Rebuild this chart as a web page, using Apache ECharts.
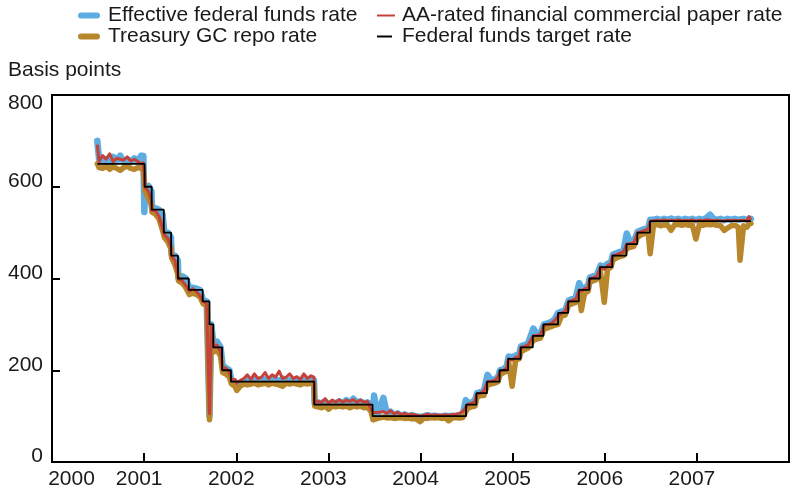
<!DOCTYPE html>
<html>
<head>
<meta charset="utf-8">
<script src="https://cdn.jsdelivr.net/npm/echarts@6/dist/echarts.min.js"></script>
<style>
  html, body { margin: 0; padding: 0; background: #fff; }
  #chart { width: 791px; height: 493px; }
</style>
</head>
<body>
<div id="chart"></div>
<script>
// Observation dates shared by the three market rates
const sampleDates = [
  '2000-06-29','2000-07-06','2000-07-20','2000-08-03','2000-08-17','2000-08-31','2000-09-14','2000-09-28',
  '2000-10-12','2000-10-26','2000-11-09','2000-11-23','2000-12-07','2000-12-21','2000-12-29','2001-01-02',
  '2001-01-05','2001-01-18','2001-01-30','2001-02-01','2001-02-15','2001-03-01','2001-03-15','2001-03-22',
  '2001-04-05','2001-04-17','2001-04-20','2001-05-03','2001-05-14','2001-05-17','2001-06-01','2001-06-15',
  '2001-06-29','2001-07-13','2001-07-27','2001-08-10','2001-08-23','2001-09-06','2001-09-17','2001-09-24',
  '2001-10-03','2001-10-17','2001-10-31','2001-11-08','2001-11-21','2001-12-05','2001-12-13','2001-12-27',
  '2002-01-03','2002-01-17','2002-01-31','2002-02-14','2002-02-28','2002-03-14','2002-03-28','2002-04-11',
  '2002-04-25','2002-05-09','2002-05-23','2002-06-06','2002-06-20','2002-07-03','2002-07-18','2002-08-01',
  '2002-08-15','2002-08-29','2002-09-12','2002-09-26','2002-10-10','2002-10-24','2002-11-05','2002-11-08',
  '2002-11-21','2002-12-05','2002-12-19','2003-01-02','2003-01-16','2003-01-30','2003-02-13','2003-02-27',
  '2003-03-13','2003-03-27','2003-04-10','2003-04-24','2003-05-08','2003-05-22','2003-06-05','2003-06-19',
  '2003-06-27','2003-07-01','2003-07-15','2003-08-07','2003-08-21','2003-09-04','2003-09-18','2003-10-02',
  '2003-10-16','2003-10-30','2003-11-13','2003-11-27','2003-12-11','2003-12-31','2004-01-15','2004-01-29',
  '2004-02-12','2004-02-26','2004-03-11','2004-03-25','2004-04-08','2004-04-22','2004-05-06','2004-05-20',
  '2004-06-03','2004-06-17','2004-06-29','2004-07-08','2004-07-22','2004-08-05','2004-08-12','2004-08-26',
  '2004-09-09','2004-09-23','2004-10-07','2004-10-21','2004-11-04','2004-11-12','2004-11-26','2004-12-09',
  '2004-12-16','2004-12-30','2005-01-13','2005-01-27','2005-02-03','2005-02-17','2005-03-03','2005-03-24',
  '2005-04-07','2005-04-21','2005-05-05','2005-05-19','2005-06-02','2005-06-16','2005-06-30','2005-07-14',
  '2005-07-28','2005-08-11','2005-08-25','2005-09-08','2005-09-22','2005-09-30','2005-10-13','2005-10-27',
  '2005-11-03','2005-11-17','2005-12-01','2005-12-15','2005-12-30','2006-01-12','2006-01-26','2006-02-02',
  '2006-02-16','2006-03-02','2006-03-16','2006-03-29','2006-04-12','2006-04-26','2006-05-11','2006-05-25',
  '2006-06-08','2006-06-22','2006-06-30','2006-07-13','2006-07-27','2006-08-10','2006-08-24','2006-09-07',
  '2006-09-21','2006-10-05','2006-10-19','2006-11-02','2006-11-16','2006-11-30','2006-12-14','2006-12-28',
  '2007-01-11','2007-01-25','2007-02-08','2007-02-22','2007-03-08','2007-03-22','2007-04-05','2007-04-19',
  '2007-05-03','2007-05-17','2007-05-31','2007-06-14','2007-06-21','2007-07-05','2007-07-19','2007-07-26',
  '2007-08-03'
];

// Effective federal funds rate, basis points
const effectiveFedFunds = [
  700,660,655,660,652,665,656,668, 654,660,655,662,656,668,667,545,
  600,602,590,555,553,550,540,502, 500,490,452,450,440,402,405,400,
  380,380,378,375,352,350,100,300, 255,262,250,210,205,200,178,175,
  165,172,175,178,175,180,176,175, 180,175,178,180,175,182,175,178,
  176,180,175,178,176,180,178,128, 130,128,132,125,130,128,132,128,
  135,128,138,130,132,128,130,125, 105,145,102,140,104,110,102,106,
  100,104,100,102,100,98,100,102, 100,101,100,99,101,100,101,100,
  102,104,135,128,130,135,150,152, 155,190,178,180,185,200,202,210,
  230,228,232,235,252,255,258,291, 278,280,300,302,305,310,325,328,
  330,352,355,358,390,378,380,385, 402,405,408,428,425,432,435,452,
  455,458,460,498,478,480,502,505, 508,510,528,528,530,527,530,528,
  531,528,530,527,530,528,530,527, 530,528,532,539,530,528,530,527,
  530,528,530,528,526,530,528,530, 530
];

// Treasury general collateral repo rate, basis points
const treasuryRepo = [
  650,642,640,645,638,644,640,636, 642,645,640,638,642,640,635,610,
  590,575,560,545,540,530,505,490, 480,465,445,430,410,395,390,380,
  365,368,365,360,345,340,92,285, 240,245,230,195,192,185,170,165,
  156,165,170,168,170,172,168,170, 172,168,172,170,168,165,172,170,
  172,170,168,172,170,172,170,122, 120,118,122,115,122,120,122,120,
  122,118,122,120,122,118,120,110, 92,95,95,98,96,97,95,96,
  97,95,96,94,95,88,96,95, 97,96,97,95,96,90,96,97,
  96,97,110,118,120,122,140,145, 145,168,170,172,175,190,195,198,
  218,165,222,225,240,245,248,265, 268,270,290,292,295,298,300,318,
  320,342,345,348,365,330,368,372, 392,395,398,415,348,420,425,440,
  445,448,450,465,468,470,490,495, 498,500,454,516,518,515,517,516,
  505,517,518,516,518,516,517,486, 518,516,518,517,518,516,515,505,
  510,515,516,512,440,515,512,518, 520
];

// AA-rated financial commercial paper rate, basis points
const aaFinancialCP = [
  692,655,668,660,672,655,662,660, 658,665,656,660,655,650,652,630,
  598,590,570,548,548,535,510,495, 488,470,448,440,410,398,395,385,
  372,378,372,362,350,345,105,295, 250,255,240,205,205,195,180,180,
  172,178,182,190,180,192,182,185, 195,182,190,185,198,182,185,192,
  182,186,180,192,182,188,185,130, 132,130,138,128,135,130,136,130,
  135,132,136,130,135,130,132,115, 108,112,108,110,106,112,105,108,
  104,106,103,104,103,100,102,104, 102,103,102,102,103,102,103,104,
  106,110,120,126,128,132,148,150, 155,175,176,178,185,198,200,205,
  225,222,228,230,250,252,255,275, 276,278,298,300,302,308,318,325,
  328,350,352,355,375,372,378,380, 400,402,405,425,420,428,432,450,
  452,455,458,475,476,478,500,502, 505,508,525,526,527,526,528,526,
  527,526,528,526,527,526,528,525, 527,526,528,527,526,527,526,525,
  527,526,527,526,524,527,526,535, 528
];

// Federal funds target rate: date of each change and the new level, basis points
const targetChangeDates = [
  '2000-06-29','2001-01-03','2001-01-31','2001-03-20','2001-04-18','2001-05-15','2001-06-27','2001-08-21',
  '2001-09-17','2001-10-02','2001-11-06','2001-12-11','2002-11-06','2003-06-25','2004-06-30','2004-08-10',
  '2004-09-21','2004-11-10','2004-12-14','2005-02-02','2005-03-22','2005-05-03','2005-06-30','2005-08-09',
  '2005-09-20','2005-11-01','2005-12-13','2006-01-31','2006-03-28','2006-05-10','2006-06-29','2007-08-03'
];
const targetLevels = [
  650,600,550,500,450,400,375,350, 300,250,200,175,125,100,125,150,
  175,200,225,250,275,300,325,350, 375,400,425,450,475,500,525,525
];

const yAxisTicks = [0, 200, 400, 600, 800];
const yearRange = [2000, 2008];

const FONT = '"Liberation Sans", Arial, sans-serif';
const TEXT_COLOR = '#1a1a1a';

// Calendar date -> fractional year for the numeric time axis
function toYear(s) {
  const [y, m, d] = s.split('-').map(Number);
  const start = Date.UTC(y, 0, 1), end = Date.UTC(y + 1, 0, 1);
  return y + (Date.UTC(y, m - 1, d) - start) / (end - start);
}

const pairs = (dates, vals) => dates.map((d, i) => [toYear(d), vals[i]]);

const capsule = 'path://M3,0L19,0A3,3,0,0,1,19,6L3,6A3,3,0,0,1,3,0Z';

const legendBase = {
  orient: 'horizontal',
  padding: 0,
  selectedMode: false,
  textStyle: { fontSize: 21, fontFamily: FONT, color: TEXT_COLOR, padding: [0, 0, 0, 3] }
};

const chart = echarts.init(document.getElementById('chart'), null, { renderer: 'canvas' });

chart.setOption({
  animation: false,
  backgroundColor: '#fff',
  textStyle: { fontFamily: FONT },
  grid: {
    left: 52, right: 2, top: 95, bottom: 31,
    containLabel: false,
    outerBoundsMode: 'none',
    show: true,
    borderColor: '#000',
    borderWidth: 2,
    backgroundColor: 'transparent'
  },
  legend: [
    Object.assign({}, legendBase, {
      data: [{ name: 'Effective federal funds rate', icon: capsule }],
      left: 78, top: 5, itemWidth: 22, itemHeight: 6,
      itemStyle: { color: '#5dade2', borderWidth: 0 }
    }),
    Object.assign({}, legendBase, {
      data: [{ name: 'Treasury GC repo rate', icon: capsule }],
      left: 78, top: 26, itemWidth: 22, itemHeight: 6,
      itemStyle: { color: '#b8862b', borderWidth: 0 }
    }),
    Object.assign({}, legendBase, {
      data: [{ name: 'AA-rated financial commercial paper rate', icon: 'rect' }],
      left: 377, top: 5, itemWidth: 18, itemHeight: 2,
      textStyle: Object.assign({}, legendBase.textStyle, { padding: [0, 0, 0, 2] }),
      itemStyle: { color: '#c4423a', borderWidth: 0 }
    }),
    Object.assign({}, legendBase, {
      data: [{ name: 'Federal funds target rate', icon: 'rect' }],
      left: 377, top: 26, itemWidth: 15, itemHeight: 2,
      textStyle: Object.assign({}, legendBase.textStyle, { padding: [0, 0, 0, 5] }),
      itemStyle: { color: '#000', borderWidth: 0 }
    })
  ],
  graphic: [{
    type: 'text', left: 8, top: 60,
    style: { text: 'Basis points', fontSize: 21, fontFamily: FONT, fill: TEXT_COLOR }
  }],
  xAxis: {
    type: 'value',
    min: yearRange[0], max: yearRange[1], interval: 1,
    axisLine: { show: false },
    splitLine: { show: false },
    axisTick: { show: true, inside: true, length: 9, lineStyle: { color: '#000', width: 2 } },
    axisLabel: {
      showMaxLabel: false,
      margin: 7,
      fontSize: 21, fontFamily: FONT, color: TEXT_COLOR,
      formatter: v => (v === yearRange[0] ? '{first|' + v + '}' : '{yr|' + v + '}'),
      rich: {
        yr: { fontSize: 21, fontFamily: FONT, color: TEXT_COLOR, padding: [0, 10, 0, 0] },
        first: { fontSize: 21, fontFamily: FONT, color: TEXT_COLOR, padding: [0, 0, 0, 39] }
      }
    }
  },
  yAxis: {
    type: 'value',
    min: yAxisTicks[0], max: yAxisTicks[yAxisTicks.length - 1], interval: 200,
    axisLine: { show: false },
    splitLine: { show: false },
    axisTick: { show: true, inside: true, length: 8, lineStyle: { color: '#000', width: 2 } },
    axisLabel: {
      margin: 9,
      fontSize: 21, fontFamily: FONT, color: TEXT_COLOR,
      formatter: v => (v === yAxisTicks[yAxisTicks.length - 1] ? '{top|' + v + '}' : '{n|' + v + '}'),
      rich: {
        n: { fontSize: 21, fontFamily: FONT, color: TEXT_COLOR, padding: [0, 0, 11, 0] },
        top: { fontSize: 21, fontFamily: FONT, color: TEXT_COLOR, padding: [16, 0, 0, 0] }
      }
    }
  },
  series: [
    {
      name: 'Effective federal funds rate', type: 'line', symbol: 'none', z: 2,
      data: pairs(sampleDates, effectiveFedFunds),
      itemStyle: { color: '#5dade2' },
      lineStyle: { color: '#5dade2', width: 6.5, cap: 'round', join: 'round' }
    },
    {
      name: 'Treasury GC repo rate', type: 'line', symbol: 'none', z: 3,
      data: pairs(sampleDates, treasuryRepo),
      itemStyle: { color: '#b8862b' },
      lineStyle: { color: '#b8862b', width: 5.5, cap: 'round', join: 'round' }
    },
    {
      name: 'AA-rated financial commercial paper rate', type: 'line', symbol: 'none', z: 4,
      data: pairs(sampleDates, aaFinancialCP),
      itemStyle: { color: '#c4423a' },
      lineStyle: { color: '#c4423a', width: 3, join: 'round' }
    },
    {
      name: 'Federal funds target rate', type: 'line', symbol: 'none', z: 5, step: 'end',
      data: pairs(targetChangeDates, targetLevels),
      itemStyle: { color: '#000' },
      lineStyle: { color: '#000', width: 1.8 }
    }
  ]
});
</script>
</body>
</html>
